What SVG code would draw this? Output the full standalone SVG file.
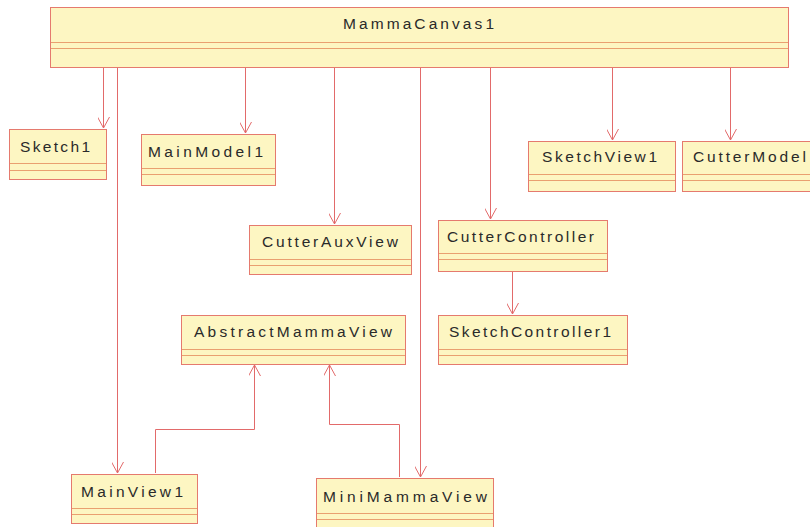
<svg xmlns="http://www.w3.org/2000/svg" width="810" height="527" viewBox="0 0 810 527">
  <style>
    .box { fill: #fdf6c2; stroke: #e57a6e; stroke-width: 1; }
    .sep { stroke: #e9a070; stroke-width: 1; fill: none; }
    .lbl { font-family: "Liberation Sans", Arial, sans-serif; font-size: 15.5px; fill: #2a2a2a; }
    .conn { stroke: #e26a6a; stroke-width: 1; fill: none; marker-end: url(#open); }
  </style>
  <defs>
    <!-- open "V" arrowhead, drawn along +x so orient="auto" follows the line -->
    <marker id="open" viewBox="0 0 14 12" refX="13" refY="6" markerWidth="14" markerHeight="12" markerUnits="userSpaceOnUse" orient="auto">
      <path d="M2,0 L13,6 L2,12" fill="none" stroke="#e26a6a" stroke-width="1"/>
    </marker>
  </defs>
  <rect width="810" height="527" fill="#ffffff"/>

  <g id="connectors">
    <path class="conn" d="M103.5,67 V128"/>
    <path class="conn" d="M117.5,67 V473"/>
    <path class="conn" d="M245.5,67 V133"/>
    <path class="conn" d="M334.5,67 V224"/>
    <path class="conn" d="M420.5,67 V477"/>
    <path class="conn" d="M490.5,67 V219"/>
    <path class="conn" d="M612.5,67 V140"/>
    <path class="conn" d="M730.5,67 V140"/>
    <path class="conn" d="M512.5,272 V314"/>
    <path class="conn" d="M155.5,473 V429.5 H254.5 V365"/>
    <path class="conn" d="M399.5,477 V424.5 H329.5 V365"/>
  </g>

  <g id="MammaCanvas1">
    <rect class="box" x="50.5" y="7.5" width="738" height="60"/>
    <path class="sep" d="M51,42.5 H788 M51,48.5 H788"/>
    <text class="lbl" x="343" y="29" textLength="151" lengthAdjust="spacing">MammaCanvas1</text>
  </g>
  <g id="Sketch1">
    <rect class="box" x="9.5" y="129.5" width="97" height="50"/>
    <path class="sep" d="M10,163.5 H106 M10,170.5 H106"/>
    <text class="lbl" x="20" y="152" textLength="70" lengthAdjust="spacing">Sketch1</text>
  </g>
  <g id="MainModel1">
    <rect class="box" x="141.5" y="134.5" width="134" height="51"/>
    <path class="sep" d="M142,168.5 H275 M142,174.5 H275"/>
    <text class="lbl" x="148" y="157" textLength="115" lengthAdjust="spacing">MainModel1</text>
  </g>
  <g id="SketchView1">
    <rect class="box" x="528.5" y="141.5" width="147" height="50"/>
    <path class="sep" d="M529,174.5 H675 M529,180.5 H675"/>
    <text class="lbl" x="542" y="162" textLength="115" lengthAdjust="spacing">SketchView1</text>
  </g>
  <g id="CutterModel">
    <rect class="box" x="682.5" y="141.5" width="140" height="50"/>
    <path class="sep" d="M683,174.5 H810 M683,180.5 H810"/>
    <text class="lbl" x="693" y="162" textLength="113" lengthAdjust="spacing">CutterModel</text>
  </g>
  <g id="CutterAuxView">
    <rect class="box" x="249.5" y="225.5" width="162" height="49"/>
    <path class="sep" d="M250,259.5 H411 M250,265.5 H411"/>
    <text class="lbl" x="262" y="247" textLength="136" lengthAdjust="spacing">CutterAuxView</text>
  </g>
  <g id="CutterController">
    <rect class="box" x="438.5" y="220.5" width="169" height="51"/>
    <path class="sep" d="M439,253.5 H607 M439,259.5 H607"/>
    <text class="lbl" x="447" y="242" textLength="147" lengthAdjust="spacing">CutterController</text>
  </g>
  <g id="SketchController1">
    <rect class="box" x="438.5" y="315.5" width="189" height="49"/>
    <path class="sep" d="M439,349.5 H627 M439,355.5 H627"/>
    <text class="lbl" x="449" y="337" textLength="162" lengthAdjust="spacing">SketchController1</text>
  </g>
  <g id="AbstractMammaView">
    <rect class="box" x="181.5" y="315.5" width="224" height="49"/>
    <path class="sep" d="M182,349.5 H405 M182,355.5 H405"/>
    <text class="lbl" x="194" y="337" textLength="198" lengthAdjust="spacing">AbstractMammaView</text>
  </g>
  <g id="MainView1">
    <rect class="box" x="71.5" y="474.5" width="126" height="49"/>
    <path class="sep" d="M72,508.5 H197 M72,514.5 H197"/>
    <text class="lbl" x="81" y="497" textLength="102" lengthAdjust="spacing">MainView1</text>
  </g>
  <g id="MiniMammaView">
    <rect class="box" x="316.5" y="478.5" width="177" height="60"/>
    <path class="sep" d="M317,513.5 H493 M317,519.5 H493"/>
    <text class="lbl" x="323" y="502" textLength="164" lengthAdjust="spacing">MiniMammaView</text>
  </g>
</svg>
